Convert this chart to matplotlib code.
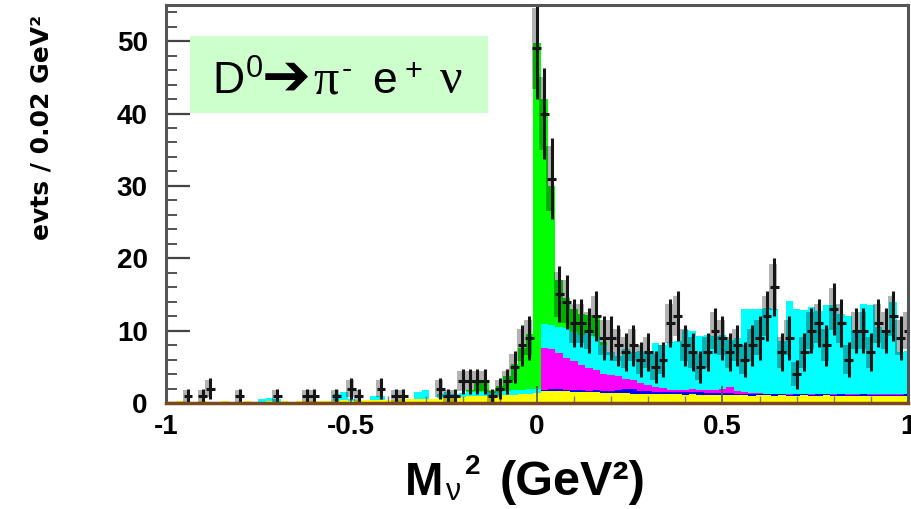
import numpy as np
import matplotlib
matplotlib.use("Agg")
import matplotlib.pyplot as plt
from matplotlib.patches import Rectangle

plt.rcParams["font.family"] = ["Liberation Sans", "DejaVu Sans"]

# M_nu^2 histogram, 0.02 GeV^2 bins centred on -1.00 ... 1.00
bin_lo, bin_hi, bin_w = -50, 50, 0.02

# stacked MC components (own contribution per bin, bottom to top)
yellow = [0.2, 0.2, 0.25, 0.2, 0.2, 0.25, 0.2, 0.2, 0.25, 0.2,
          0.2, 0.25, 0.2, 0.2, 0.25, 0.2, 0.25, 0.2, 0.25, 0.3,
          0.3, 0.25, 0.3, 0.3, 0.35, 0.3, 0.35, 0.4, 0.35, 0.4,
          0.4, 0.45, 0.5, 0.5, 0.55, 0.6, 0.6, 0.7, 0.75, 0.8,
          0.85, 0.9, 0.95, 1.0, 1.0, 1.05, 1.1, 1.15, 1.2, 1.3,
          1.4,
          1.6, 1.7, 1.65, 1.6, 1.55, 1.5, 1.45, 1.45, 1.4, 1.4,
          1.35, 1.35, 1.3, 1.3, 1.3, 1.25, 1.25, 1.2, 1.2, 1.15,
          1.2, 1.15, 1.1, 1.15, 1.1, 1.1, 1.05, 1.05, 1.0, 1.05,
          1.05, 1.0, 1.05, 1.0, 1.0, 1.05, 1.0, 1.0, 1.05, 1.0,
          1.0, 0.95, 1.0, 1.0, 0.95, 1.0, 0.95, 1.0, 0.95, 1.0]
blue = [0.0] * 51 + [
          0.25, 0.3, 0.25, 0.25, 0.3, 0.25, 0.25, 0.3, 0.25, 0.3,
          0.5, 0.6, 0.6, 0.4, 0.3, 0.25, 0.3, 0.25, 0.25, 0.3,
          0.25, 0.3, 0.25, 0.25, 0.3, 0.25, 0.25, 0.2, 0.25, 0.2,
          0.15, 0.2, 0.15, 0.15, 0.2, 0.15, 0.15, 0.2, 0.15, 0.15,
          0.2, 0.15, 0.15, 0.2, 0.15, 0.15, 0.2, 0.15, 0.15, 0.2]
magenta = [0.0] * 51 + [
          5.8, 5.5, 5.0, 4.3, 3.9, 3.5, 3.1, 2.8, 2.3, 2.1,
          1.9, 1.4, 1.3, 1.1, 0.9, 0.7, 0.5, 0.4, 0.3, 0.3,
          0.5, 0.4, 0.4, 0.4, 0.5, 0.8, 0.3, 0.2, 0.1, 0.1,
          0.1, 0.05, 0.1, 0.1, 0.05, 0.1, 0.1, 0.05, 0.1, 0.1,
          0.05, 0.1, 0.1, 0.05, 0.1, 0.1, 0.05, 0.1, 0.1, 0.05]
cyan = [0, 0, 0, 0, 0, 0, 0, 0, 0, 0,
        0, 0, 0, 0.3, 0.4, 0.3, 0, 0, 0, 0,
        0, 0, 0, 1.0, 1.1, 0.3, 0, 0, 0.6, 0.5,
        0, 0, 0, 0, 1.0, 1.2, 0, 0.6, 0.7, 0.5,
        0.5, 0.6, 0.5, 0.5, 0.4, 0.5, 0.6, 0.7, 0.6, 0.6,
        0.5,
        3.2, 3.3, 3.6, 4.2, 4.1, 4.2, 5.0, 4.5, 4.0, 3.2,
        2.8, 4.1, 3.8, 4.4, 4.5, 6.1, 6.0, 6.6, 6.8, 8.3,
        8.0, 7.4, 7.7, 7.5, 7.5, 6.5, 7.4, 11.5, 11.7, 11.7,
        11.8, 11.8, 7.2, 12.9, 11.7, 11.5, 12.0, 11.4, 12.3, 12.3,
        11.0, 10.8, 8.7, 12.4, 12.3, 9.2, 8.8, 12.7, 5.8, 6.0]
green = [0.0] * 40 + [
         0.0, 0.3, 1.5, 1.4, 0.2, 0.8, 2.0, 3.6, 5.8, 7.7,
         47.8,
         31.2, 19.2, 6.5, 4.2, 3.2, 2.9, 2.4, 3.0, 0.5, 0.0] + [0.0] * 40

# data, events per bin
data = [0, 0, 0, 1, 0, 1, 2, 0, 0, 0,
        1, 0, 0, 0, 0, 1, 0, 0, 0, 1,
        1, 0, 0, 1, 0, 2, 1, 0, 0, 2,
        0, 1, 1, 0, 0, 0, 0, 2, 1, 1,
        3, 3, 3, 3, 1, 2, 3, 5, 8, 9,
        49,
        40, 31, 15, 14, 11, 11, 10, 12, 9, 9,
        8, 7, 8, 6, 7, 5, 6, 11, 12, 8,
        7, 5, 7, 10, 9, 7, 8, 6, 8, 9,
        12, 16, 7, 9, 4, 7, 10, 11, 8, 13,
        11, 6, 10, 10, 7, 11, 10, 12, 9, 10]

x = np.arange(bin_lo, bin_hi + 1) * bin_w
edges = np.append(x - bin_w / 2, x[-1] + bin_w / 2)

fig = plt.figure(figsize=(9.12, 5.09), dpi=100)
ax = fig.add_axes([0.1817, 0.2083, 0.8139, 0.7819])

layers = [(yellow, "#ffff00"), (blue, "#0000ff"), (magenta, "#ff00ff"),
          (cyan, "#00ffff"), (green, "#00ff00")]
base = np.zeros(len(x))
for vals, col in layers:
    top = base + np.array(vals)
    ax.stairs(top, edges, baseline=base, fill=True, color=col, lw=0)
    base = top

d = np.array(data, dtype=float)
m = d > 0
err = np.sqrt(d[m])
ax.bar(x[m] - 0.004, 1.6 * err, bottom=d[m] - 0.8 * err, width=0.02,
       color="k", alpha=0.3, lw=0)
ax.errorbar(x[m], d[m], yerr=err, xerr=0.012, fmt="none", ecolor="#151515",
            elinewidth=2.2, capsize=0)

ax.set_xlim(-1, 1)
ax.set_ylim(0, 55)
ax.set_yticks(np.arange(0, 51, 10))
ax.set_yticks(np.arange(0, 55, 2), minor=True)
ax.set_xticks([-1, -0.5, 0, 0.5, 1])
ax.set_xticklabels(["-1", "-0.5", "0", "0.5", "1"])
ax.set_xticks(np.arange(-1, 1.01, 0.1), minor=True)
ax.tick_params(axis="y", which="major", direction="in", length=17, width=1.6,
               color="#444444", pad=13, labelsize=20)
ax.tick_params(axis="y", which="minor", direction="in", length=8, width=1.3,
               color="#444444")
ax.tick_params(axis="x", which="major", direction="in", length=12, width=1.2,
               color="#555555", pad=8, labelsize=20)
ax.tick_params(axis="x", which="minor", direction="in", length=5, width=1.0,
               color="#777777")
for lab in ax.get_xticklabels() + ax.get_yticklabels():
    lab.set_fontweight("bold")
for s in ["left", "top", "right"]:
    ax.spines[s].set_color("#555555")
    ax.spines[s].set_linewidth(2.2)
ax.spines["bottom"].set_color("#7a4a1e")
ax.spines["bottom"].set_linewidth(2.5)

# decay label box
W, H = 912.0, 509.0
fig.patches.append(Rectangle((190 / W, 1 - 113 / H), 298 / W, 77 / H,
                             transform=fig.transFigure, facecolor="#ccffcc",
                             edgecolor="none", zorder=3))

def ftext(px, py, s, **kw):
    fig.text(px / W, 1 - py / H, s, zorder=4, **kw)

ftext(212, 93, "D", fontsize=32, va="baseline")
ftext(246, 69, "0", fontsize=22, va="center")
ftext(262, 78, "\u2794", fontsize=42, va="center", family="DejaVu Sans")
ftext(313, 93, "\u03c0", fontsize=36, va="baseline", family="Liberation Serif")
ftext(342, 70, "-", fontsize=22, va="center")
ftext(372, 93, "e", fontsize=32, va="baseline")
ftext(405, 72, "+", fontsize=22, va="center")
ftext(440, 93, "\u03bd", fontsize=36, va="baseline", family="Liberation Serif")

fig.text(42 / W, 1 - 127 / H, "evts / 0.02 GeV\u00b2", rotation=90,
         fontsize=18, fontweight="bold", ha="center", va="center",
         family="DejaVu Sans")

# x axis title: M_nu^2 (GeV^2)
ftext(405, 495, "M", fontsize=33, fontweight="bold", va="baseline")
ftext(445, 500, "\u03bd", fontsize=22, va="baseline")
ftext(465, 467, "2", fontsize=20, fontweight="bold", va="center")
ftext(500, 495, "(GeV\u00b2)", fontsize=35, fontweight="bold", ha="left",
      va="baseline")

fig.savefig("out.png", dpi=100)
